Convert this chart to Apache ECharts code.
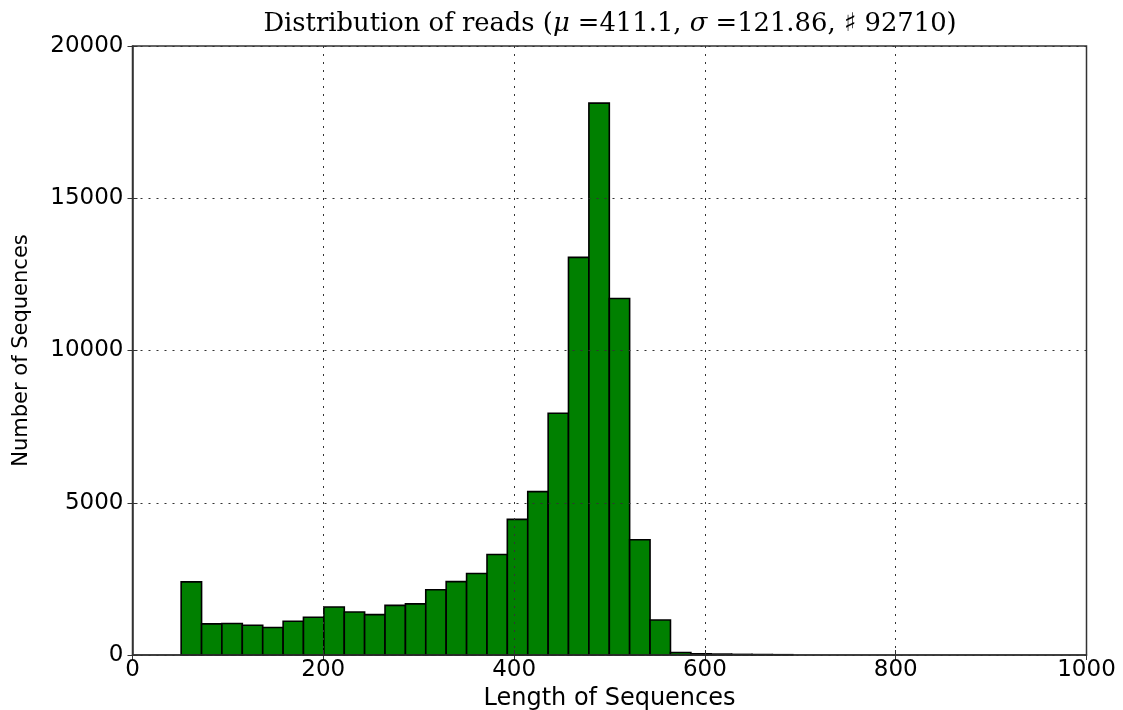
<!DOCTYPE html>
<html>
<head>
<meta charset="utf-8">
<script src="https://cdn.jsdelivr.net/npm/echarts@6/dist/echarts.min.js"></script>
<style>
html,body{margin:0;padding:0;background:#fff;}
#c{width:1123px;height:710px;}
</style>
</head>
<body>
<div id="c"></div>
<script>
// Bin edges (read length), one more than counts
const binEdges = [51.0, 72.4, 93.7, 115.1, 136.5, 157.9, 179.2, 200.6, 222.0, 243.3,
  264.7, 286.1, 307.4, 328.8, 350.2, 371.6, 392.9, 414.3, 435.7, 457.0,
  478.4, 499.8, 521.1, 542.5, 563.9, 585.3, 606.6, 628.0, 649.4, 670.7, 692.1];
// Number of sequences per bin
const counts = [2400, 1022, 1033, 978, 902, 1109, 1239, 1576, 1413, 1326,
  1630, 1680, 2145, 2410, 2675, 3299, 4454, 5365, 7941, 13057,
  18123, 11709, 3785, 1148, 80, 40, 30, 20, 15, 10];
const xTicks = [0, 200, 400, 600, 800, 1000];
const yTicks = [0, 5000, 10000, 15000, 20000];
const titleParts = ['Distribution of reads (', 'μ', ' =411.1, ', 'σ', ' =121.86, ♯ 92710)'];

const chart = echarts.init(document.getElementById('c'), null, {renderer: 'canvas'});
const data = counts.map((c, i) => [binEdges[i], binEdges[i + 1], c]);
const sans = 'DejaVu Sans';
const gridLine = {show: true, lineStyle: {color: '#333', width: 1, type: [2, 6]}};
const plain = v => String(v);

chart.setOption({
  animation: false,
  backgroundColor: '#fff',
  title: {
    text: '{n|' + titleParts[0] + '}{i|' + titleParts[1] + '}{n|' + titleParts[2] + '}{i|' + titleParts[3] + '}{n|' + titleParts[4] + '}',
    left: 605, top: 6, textAlign: 'center',
    textStyle: {
      fontWeight: 'normal',
      rich: {
        n: {fontFamily: 'DejaVu Serif', fontWeight: 'normal', fontSize: 25.8, color: '#000'},
        i: {fontFamily: 'DejaVu Serif', fontWeight: 'normal', fontStyle: 'italic', fontSize: 25.8, color: '#000'}
      }
    }
  },
  grid: {left: 132.5, right: 36.5, top: 46, bottom: 55, containLabel: false, outerBoundsMode: 'none',
    show: true, borderColor: '#333', borderWidth: 1.5, backgroundColor: 'transparent'},
  xAxis: [{
    type: 'value', min: xTicks[0], max: xTicks[xTicks.length - 1], interval: 200,
    z: 5,
    name: 'Length of Sequences', nameLocation: 'middle', nameGap: 23,
    nameTextStyle: {fontFamily: sans, fontSize: 24, color: '#000'},
    axisLine: {show: true, lineStyle: {color: '#333', width: 1.5}},
    axisTick: {show: true, inside: true, length: 5, lineStyle: {color: '#333', width: 1}},
    axisLabel: {fontFamily: sans, fontSize: 23, color: '#000', margin: 4, formatter: plain},
    splitLine: gridLine
  }, {
    type: 'value', position: 'top', min: xTicks[0], max: xTicks[xTicks.length - 1], interval: 200,
    axisLine: {show: false}, axisLabel: {show: false}, splitLine: {show: false},
    axisTick: {show: true, inside: true, length: 5, lineStyle: {color: '#333', width: 1}}
  }],
  yAxis: [{
    type: 'value', min: yTicks[0], max: yTicks[yTicks.length - 1], interval: 5000,
    z: 5,
    name: 'Number of Sequences', nameLocation: 'middle', nameGap: 100,
    nameTextStyle: {fontFamily: sans, fontSize: 21, color: '#000'},
    axisLine: {show: true, lineStyle: {color: '#333', width: 1.5}},
    axisTick: {show: true, inside: true, length: 5, lineStyle: {color: '#333', width: 1}},
    axisLabel: {fontFamily: sans, fontSize: 23, color: '#000', margin: 9, formatter: plain},
    splitLine: gridLine
  }, {
    type: 'value', position: 'right', min: yTicks[0], max: yTicks[yTicks.length - 1], interval: 5000,
    axisLine: {show: false}, axisLabel: {show: false}, splitLine: {show: false},
    axisTick: {show: true, inside: true, length: 5, lineStyle: {color: '#333', width: 1}}
  }],
  series: [{
    type: 'custom',
    xAxisIndex: 0, yAxisIndex: 0,
    z: 2,
    data: data,
    encode: {x: [0, 1], y: 2},
    renderItem: function (params, api) {
      const x0 = api.value(0), x1 = api.value(1), v = api.value(2);
      const pTop = api.coord([x0, v]);
      const pBot = api.coord([x1, 0]);
      return {
        type: 'rect',
        shape: {x: pTop[0], y: pTop[1], width: pBot[0] - pTop[0], height: pBot[1] - pTop[1]},
        style: {fill: '#008000', stroke: '#000', lineWidth: 1.6}
      };
    }
  }]
});
</script>
</body>
</html>
